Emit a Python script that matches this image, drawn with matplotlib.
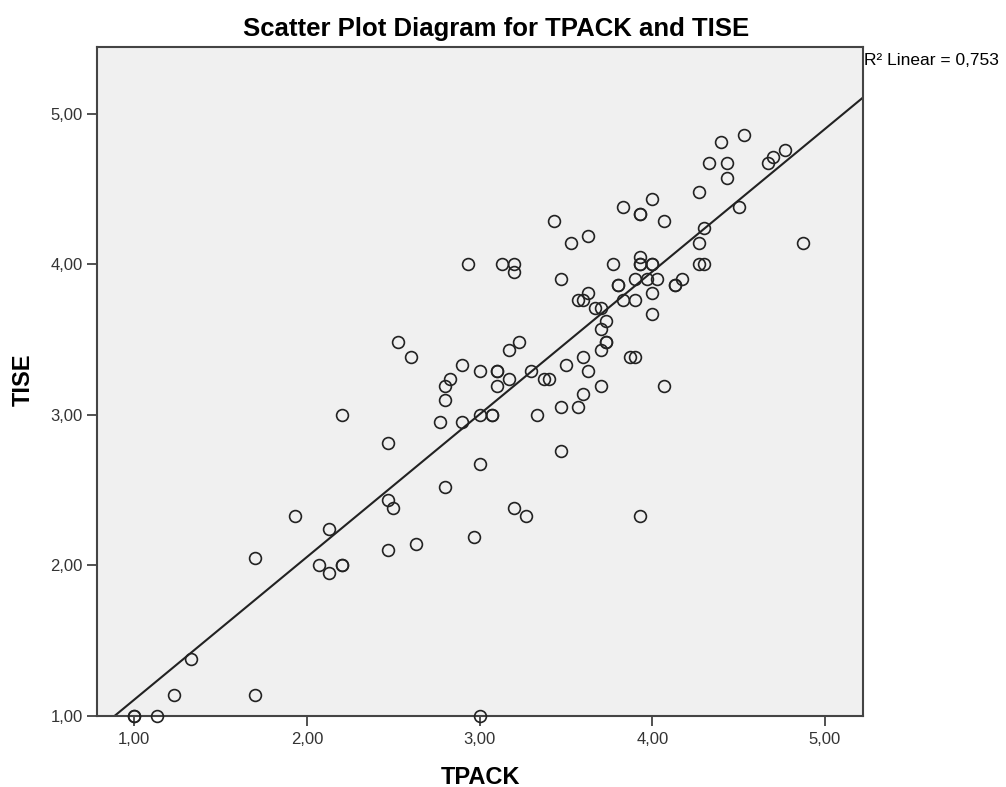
import numpy as np
import matplotlib
matplotlib.use("Agg")
import matplotlib.pyplot as plt

plt.rcParams['font.family'] = ['Liberation Sans', 'DejaVu Sans']

# TPACK / TISE scores
tpack = [2.20, 1.93, 2.13, 1.70, 2.07, 2.13, 2.20, 2.20, 1.33, 1.23, 1.70, 1.00, 1.00, 1.13,
         2.83, 3.17, 3.37, 3.40, 2.80, 2.80, 3.10, 3.60, 3.70, 3.47, 3.57, 3.33, 2.77, 2.90,
         3.00, 3.07, 3.07, 2.47, 3.47, 3.00, 2.80, 2.47, 2.50, 3.20, 3.27, 2.97, 2.63, 2.47, 3.00,
         3.43, 3.53, 3.63, 3.83, 2.93, 3.13, 3.20, 3.20, 3.47, 3.77, 3.80, 3.80, 3.63, 3.57, 3.60,
         3.67, 3.70, 3.73, 3.70, 3.73, 3.73, 3.70, 3.60, 3.50, 3.63, 2.53, 2.60, 3.17, 3.23, 2.90,
         3.00, 3.10, 3.10, 3.30,
         4.53, 4.40, 4.77, 4.70, 4.67, 4.33, 4.43, 4.43, 4.27, 4.00, 4.50, 3.93, 3.93, 4.07, 4.30,
         4.27, 4.87, 3.93, 3.93, 3.93, 4.00, 4.00, 4.27, 4.30, 3.90, 3.97, 4.03, 4.17, 4.13, 4.13,
         3.83, 3.90, 4.00, 4.00, 3.87, 3.90, 3.93, 4.07]
tise = [3.00, 2.33, 2.24, 2.05, 2.00, 1.95, 2.00, 2.00, 1.38, 1.14, 1.14, 1.00, 1.00, 1.00,
        3.24, 3.24, 3.24, 3.24, 3.19, 3.10, 3.19, 3.14, 3.19, 3.05, 3.05, 3.00, 2.95, 2.95,
        3.00, 3.00, 3.00, 2.81, 2.76, 2.67, 2.52, 2.43, 2.38, 2.38, 2.33, 2.19, 2.14, 2.10, 1.00,
        4.29, 4.14, 4.19, 4.38, 4.00, 4.00, 4.00, 3.95, 3.90, 4.00, 3.86, 3.86, 3.81, 3.76, 3.76,
        3.71, 3.71, 3.62, 3.57, 3.48, 3.48, 3.43, 3.38, 3.33, 3.29, 3.48, 3.38, 3.43, 3.48, 3.33,
        3.29, 3.29, 3.29, 3.29,
        4.86, 4.81, 4.76, 4.71, 4.67, 4.67, 4.67, 4.57, 4.48, 4.43, 4.38, 4.33, 4.33, 4.29, 4.24,
        4.14, 4.14, 4.05, 4.00, 4.00, 4.00, 4.00, 4.00, 4.00, 3.90, 3.90, 3.90, 3.90, 3.86, 3.86,
        3.76, 3.76, 3.81, 3.67, 3.38, 3.38, 2.33, 3.19]

tick_vals = [1, 2, 3, 4, 5]
tick_labels = ['1,00', '2,00', '3,00', '4,00', '5,00']

fig = plt.figure(figsize=(10.06, 7.87), dpi=100)
ax = fig.add_axes([0.0961, 0.0906, 0.7617, 0.8501])
ax.set_facecolor('#f0f0f0')

ax.plot(tpack, tise, 'o', mfc='none', mec='#222222', ms=8.5, mew=1.2, clip_on=False, zorder=3)

# linear fit
slope, inter = np.polyfit(tpack, tise, 1)
xs = np.array([0.78, 5.22])
ax.plot(xs, slope * xs + inter, color='#222222', lw=1.5, zorder=2)

ax.set_xlim(0.782, 5.22)
ax.set_ylim(1.0, 5.445)
ax.set_xticks(tick_vals)
ax.set_xticklabels(tick_labels)
ax.set_yticks(tick_vals)
ax.set_yticklabels(tick_labels)
ax.tick_params(direction='out', length=7, width=1.2, colors='#333333', labelsize=12, pad=3)
ax.tick_params(axis='x', pad=5)

for s in ax.spines.values():
    s.set_color('#444444')
    s.set_linewidth(1.5)

# axis titles, placed like the SPSS output
fig.text(0.4775, 0.004, 'TPACK', ha='center', va='baseline', fontsize=17, fontweight='bold')
fig.text(0.023, 0.517, 'TISE', ha='center', va='center', rotation=90,
         fontsize=17, fontweight='bold')

fig.text(0.4935, 0.954, 'Scatter Plot Diagram for TPACK and TISE', ha='center', va='baseline',
         fontsize=18.5, fontweight='bold')
fig.text(0.859, 0.923, 'R² Linear = 0,753', ha='left', va='center', fontsize=12.5)

fig.savefig('out.png', dpi=100)
